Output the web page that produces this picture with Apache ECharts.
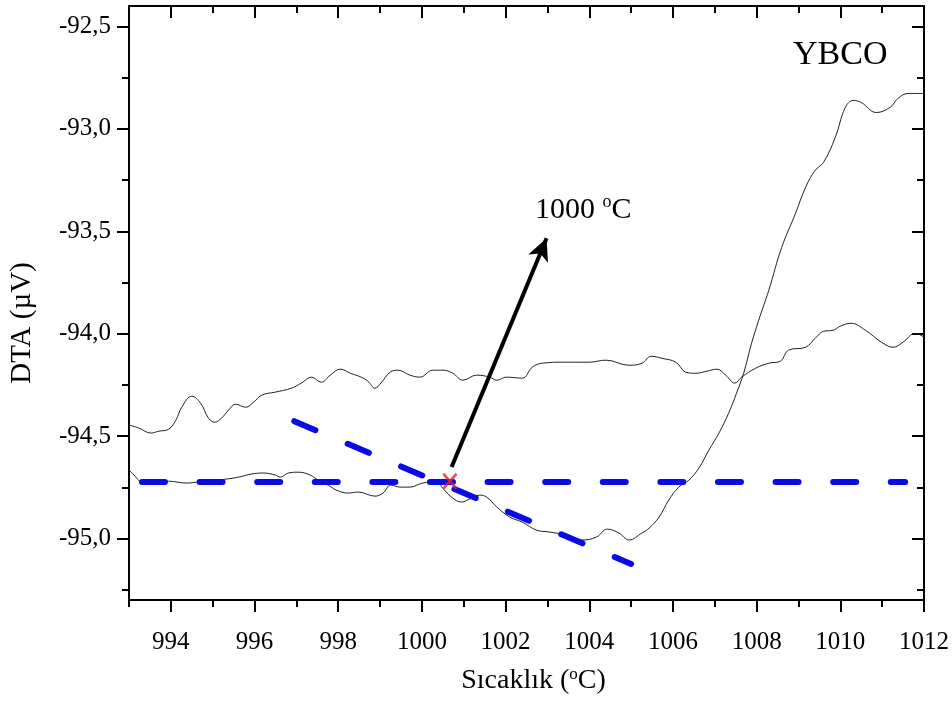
<!DOCTYPE html>
<html>
<head>
<meta charset="utf-8">
<script src="https://cdn.jsdelivr.net/npm/echarts@6/dist/echarts.min.js"></script>
<style>
  html, body { margin: 0; padding: 0; background: #fff; }
  #chart { width: 952px; height: 702px; }
</style>
</head>
<body>
<div id="chart"></div>
<script>
// DTA curves
const upperTemp = [993.00, 993.24, 993.52, 993.71, 993.95, 994.12, 994.26, 994.50, 994.71, 994.90, 995.05, 995.21, 995.38, 995.55, 995.79, 995.98, 996.17, 996.50, 996.88, 997.12, 997.36, 997.60, 997.81, 998.05, 998.29, 998.55, 998.71, 998.88, 999.02, 999.24, 999.43, 999.71, 999.95, 1000.26, 1000.50, 1000.74, 1000.98, 1001.31, 1001.62, 1001.79, 1002.02, 1002.40, 1002.64, 1002.88, 1003.36, 1004.00, 1004.40, 1004.95, 1005.26, 1005.48, 1005.74, 1006.07, 1006.31, 1006.55, 1006.81, 1007.05, 1007.26, 1007.48, 1007.64, 1007.98, 1008.29, 1008.57, 1008.76, 1009.17, 1009.40, 1009.60, 1009.83, 1010.00, 1010.26, 1010.60, 1010.98, 1011.26, 1011.50, 1011.79, 1012.00];
const upperDta = [-94.446, -94.461, -94.485, -94.476, -94.466, -94.422, -94.359, -94.305, -94.339, -94.412, -94.432, -94.412, -94.373, -94.344, -94.359, -94.334, -94.300, -94.285, -94.266, -94.241, -94.212, -94.237, -94.202, -94.173, -94.193, -94.212, -94.232, -94.266, -94.241, -94.188, -94.178, -94.202, -94.212, -94.178, -94.178, -94.193, -94.227, -94.202, -94.212, -94.227, -94.212, -94.217, -94.163, -94.144, -94.139, -94.139, -94.129, -94.154, -94.144, -94.110, -94.120, -94.139, -94.188, -94.193, -94.183, -94.173, -94.202, -94.241, -94.212, -94.168, -94.144, -94.134, -94.080, -94.066, -94.022, -93.988, -93.983, -93.963, -93.949, -93.983, -94.041, -94.066, -94.041, -93.998, -94.017];

const lowerTemp = [993.00, 993.12, 993.31, 993.64, 993.95, 994.36, 994.67, 994.90, 995.31, 995.62, 995.93, 996.21, 996.50, 996.62, 996.81, 997.05, 997.33, 997.52, 997.76, 997.95, 998.24, 998.48, 998.88, 999.07, 999.26, 999.48, 999.71, 1000.02, 1000.36, 1000.50, 1000.71, 1000.95, 1001.14, 1001.38, 1001.55, 1001.79, 1002.10, 1002.40, 1002.74, 1003.05, 1003.45, 1003.83, 1004.17, 1004.43, 1004.71, 1004.95, 1005.26, 1005.43, 1005.67, 1005.90, 1006.14, 1006.38, 1006.62, 1006.86, 1007.10, 1007.33, 1007.52, 1007.69, 1007.88, 1008.05, 1008.29, 1008.60, 1008.93, 1009.17, 1009.40, 1009.60, 1009.88, 1010.12, 1010.31, 1010.50, 1010.86, 1011.19, 1011.38, 1011.62, 1012.00];
const lowerDta = [-94.666, -94.690, -94.724, -94.720, -94.720, -94.729, -94.724, -94.720, -94.710, -94.700, -94.685, -94.680, -94.690, -94.700, -94.680, -94.676, -94.690, -94.715, -94.739, -94.763, -94.778, -94.773, -94.793, -94.778, -94.739, -94.749, -94.749, -94.729, -94.724, -94.754, -94.798, -94.822, -94.807, -94.788, -94.798, -94.846, -94.895, -94.920, -94.959, -94.968, -94.983, -95.007, -94.993, -94.954, -94.973, -95.007, -94.973, -94.949, -94.895, -94.812, -94.749, -94.715, -94.656, -94.568, -94.485, -94.388, -94.290, -94.193, -94.046, -93.934, -93.788, -93.578, -93.412, -93.285, -93.202, -93.163, -93.041, -92.895, -92.861, -92.871, -92.920, -92.895, -92.851, -92.827, -92.827];

// tangent lines and onset point
const baseTemp = [993.31, 1011.55];
const baseDta = [-94.724, -94.724];
const slopeTemp = [996.95, 1005.0];
const slopeDta = [-94.427, -95.124];
const onsetTemp = [1000.67];
const onsetDta = [-94.72];
const arrowTemp = [1000.71, 1002.98];
const arrowDta = [-94.651, -93.534];

// ticks
const xMajor = [994, 996, 998, 1000, 1002, 1004, 1006, 1008, 1010, 1012];
const xMinor = [993, 995, 997, 999, 1001, 1003, 1005, 1007, 1009, 1011];
const yMajor = [-95.0, -94.5, -94.0, -93.5, -93.0, -92.5];
const yMinor = [-95.25, -94.75, -94.25, -93.75, -93.25, -92.75];

const xMin = 993, xMax = 1012, yMin = -95.3, yMax = -92.4;
const font = 'Liberation Serif';

const pairs = (xs, ys) => xs.map((x, i) => [x, ys[i]]);

function xAxis(position, ticks, len, inside, withLine) {
  return {
    type: 'value', position: position, min: xMin, max: xMax,
    axisLine: { show: withLine, onZero: false, lineStyle: { color: '#000', width: 2 } },
    axisTick: { show: true, customValues: ticks, length: len, inside: inside, lineStyle: { color: '#000', width: 2 } },
    axisLabel: { show: false },
    splitLine: { show: false }
  };
}
function yAxis(position, ticks, len, inside, withLine) {
  return {
    type: 'value', position: position, min: yMin, max: yMax,
    axisLine: { show: withLine, onZero: false, lineStyle: { color: '#000', width: 2 } },
    axisTick: { show: true, customValues: ticks, length: len, inside: inside, lineStyle: { color: '#000', width: 2 } },
    axisLabel: { show: false },
    splitLine: { show: false }
  };
}

const xMain = xAxis('bottom', xMajor, 12, false, true);
xMain.axisLabel = {
  show: true, customValues: xMajor, fontFamily: font, fontSize: 25, color: '#000', margin: 30,
  formatter: v => String(v)
};
xMain.name = 'Sıcaklık ({s|o}C)';
xMain.nameLocation = 'middle';
xMain.nameGap = 66;
xMain.nameTextStyle = {
  fontFamily: font, fontSize: 28, color: '#000', lineHeight: 30, padding: [0, 0, 0, 14],
  rich: { s: { fontFamily: font, fontSize: 17, color: '#000', verticalAlign: 'top', lineHeight: 16 } }
};

const yMain = yAxis('left', yMajor, 12, false, true);
yMain.axisLabel = {
  show: true, customValues: yMajor, fontFamily: font, fontSize: 25, color: '#000', margin: 18,
  formatter: v => v.toFixed(1).replace('.', ',')
};
yMain.name = 'DTA (µV)';
yMain.nameLocation = 'middle';
yMain.nameRotate = 90;
yMain.nameGap = 92;
yMain.nameTextStyle = { fontFamily: font, fontSize: 29, color: '#000', padding: [0, 40, 0, 0] };

const chart = echarts.init(document.getElementById('chart'));
chart.setOption({
  animation: false,
  backgroundColor: '#fff',
  grid: { left: 128, right: 26, top: 6, bottom: 102, containLabel: false },
  xAxis: [
    xMain,
    xAxis('bottom', xMinor, 7, false, false),
    xAxis('top', xMajor, 12, true, true),
    xAxis('top', xMinor, 7, true, false)
  ],
  yAxis: [
    yMain,
    yAxis('left', yMinor, 7, false, false),
    yAxis('right', yMajor, 12, true, true),
    yAxis('right', yMinor, 7, true, false)
  ],
  graphic: [
    {
      type: 'text', left: 793, top: 38, silent: true,
      style: { text: 'YBCO', fontFamily: font, fontSize: 34, fill: '#000' }
    },
    {
      type: 'text', left: 535, top: 193, silent: true,
      style: {
        text: '{a|1000 }{s|o}{a|C}',
        rich: {
          a: { fontFamily: font, fontSize: 30, fill: '#000', lineHeight: 34 },
          s: { fontFamily: font, fontSize: 18, fill: '#000', verticalAlign: 'top', lineHeight: 20 }
        }
      }
    }
  ],
  series: [
    {
      type: 'line', data: pairs(upperTemp, upperDta), showSymbol: false, smooth: 0.4,
      lineStyle: { color: '#222', width: 1 }, silent: true
    },
    {
      type: 'line', data: pairs(lowerTemp, lowerDta), showSymbol: false, smooth: 0.4,
      lineStyle: { color: '#222', width: 1 }, silent: true
    },
    {
      type: 'line', data: pairs(baseTemp, baseDta), showSymbol: false, silent: true,
      lineStyle: { color: '#0a0ae6', width: 6, type: [23, 34.6], cap: 'round' }
    },
    {
      type: 'line', data: pairs(slopeTemp, slopeDta), showSymbol: false, silent: true,
      lineStyle: { color: '#0a0ae6', width: 6, type: [23, 35], cap: 'round' }
    },
    {
      type: 'scatter', data: pairs(onsetTemp, onsetDta), silent: true, z: 5,
      symbol: 'path://M0,1.2L1.2,0L10,8.8L8.8,10Z M8.8,0L10,1.2L1.2,10L0,8.8Z',
      symbolSize: [15, 17],
      itemStyle: { color: '#e82030' },
      markLine: {
        silent: true,
        symbol: ['none', 'arrow'],
        symbolSize: [16, 22],
        lineStyle: { color: '#000', width: 4, type: 'solid' },
        label: { show: false },
        data: [[
          { coord: [arrowTemp[0], arrowDta[0]] },
          { coord: [arrowTemp[1], arrowDta[1]] }
        ]]
      }
    }
  ]
});
</script>
</body>
</html>
